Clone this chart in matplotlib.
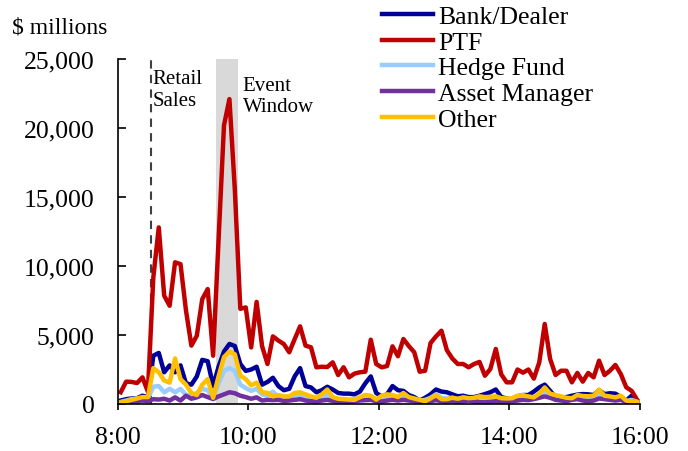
import matplotlib
matplotlib.use('Agg')
import matplotlib.pyplot as plt
import numpy as np

plt.rcParams['font.family'] = ['Liberation Serif', 'DejaVu Serif']
f_size = 18.5

# 5-minute bins from 8:00 to 16:00, values in $ millions
bin_minutes = 5
n_bins = 96

bank_dealer = [250, 350, 400, 420, 600, 500, 3500, 3700, 2300, 2800, 2300, 2800, 1500, 1400, 2000, 3200,
               3100, 1300, 2700, 3800, 4350, 4200, 2900, 2400, 2500, 2700, 1400, 1600, 1900, 1300, 1000, 1100,
               2000, 2600, 1300, 1200, 850, 1000, 1250, 1050, 800, 750, 750, 700, 900, 1500, 2000, 800,
               550, 700, 1300, 1000, 950, 650, 500, 250, 450, 700, 1050, 900, 850, 700, 560, 600,
               500, 500, 600, 720, 850, 1050, 500, 400, 350, 550, 650, 650, 900, 1200, 1400, 950,
               500, 480, 500, 600, 680, 720, 700, 650, 1000, 720, 780, 750, 500, 250, 600, 250]

ptf = [850, 1620, 1600, 1520, 1930, 890, 9180, 12800, 7850, 7120, 10270, 10140, 6800, 4230, 4950, 7600,
       8330, 3500, 11900, 20200, 22100, 15500, 6900, 7000, 4100, 7400, 4200, 2900, 4900, 4600, 4350, 3750,
       4700, 5630, 4230, 4110, 2660, 2700, 2680, 3020, 2100, 2660, 1930, 2200, 2300, 2340, 4660, 2900,
       2660, 2750, 4180, 3460, 4710, 4200, 3750, 2340, 2410, 4420, 4900, 5310, 3900, 3300, 2900, 2900,
       2660, 2900, 3050, 2050, 2540, 3990, 2150, 1570, 1570, 2500, 2270, 2500, 1840, 3020, 5800, 3260,
       2100, 2410, 2410, 1570, 2250, 1620, 2250, 1930, 3140, 2100, 2410, 2830, 2170, 1210, 950, 300]

hedge_fund = [150, 250, 350, 400, 450, 400, 1250, 1300, 850, 1100, 850, 1100, 650, 600, 800, 1100,
              1000, 450, 1500, 2400, 2600, 2400, 1400, 1150, 950, 1100, 700, 600, 900, 500, 450, 500,
              600, 650, 400, 450, 350, 500, 650, 450, 350, 350, 300, 350, 450, 650, 550, 350,
              350, 450, 550, 450, 550, 450, 350, 250, 300, 450, 700, 450, 400, 450, 350, 450,
              400, 400, 500, 450, 450, 500, 350, 350, 400, 550, 650, 500, 450, 600, 900, 650,
              450, 400, 350, 300, 500, 450, 450, 400, 650, 450, 400, 400, 350, 200, 300, 150]

asset_manager = [60, 80, 120, 180, 250, 200, 350, 320, 380, 250, 480, 250, 600, 380, 480, 650,
                 500, 360, 550, 700, 850, 780, 600, 500, 380, 480, 250, 300, 280, 300, 220, 250,
                 300, 350, 250, 200, 180, 250, 300, 220, 150, 180, 150, 200, 250, 280, 300, 200,
                 180, 250, 300, 250, 300, 250, 200, 120, 150, 200, 280, 200, 180, 220, 150, 200,
                 250, 180, 150, 120, 150, 200, 150, 180, 200, 250, 300, 280, 350, 450, 550, 450,
                 300, 250, 200, 300, 350, 250, 200, 250, 400, 350, 300, 250, 300, 150, 200, 100]

other = [100, 200, 300, 400, 500, 500, 2600, 2300, 1700, 1550, 3300, 1800, 1400, 800, 650, 1400,
         1800, 450, 2000, 3400, 3800, 3600, 2050, 1800, 1350, 1550, 850, 800, 550, 650, 550, 550,
         800, 850, 700, 550, 450, 700, 1050, 500, 380, 350, 320, 300, 490, 650, 600, 320,
         600, 700, 650, 500, 800, 500, 400, 300, 200, 400, 650, 350, 350, 450, 380, 480,
         420, 450, 560, 500, 520, 560, 420, 400, 420, 600, 600, 550, 480, 750, 1200, 750,
         650, 550, 450, 420, 650, 580, 560, 600, 1050, 600, 550, 480, 600, 250, 200, 150]

series = [('Bank/Dealer', bank_dealer, '#000099'),
          ('PTF', ptf, '#C00000'),
          ('Hedge Fund', hedge_fund, '#99CCFF'),
          ('Asset Manager', asset_manager, '#7030A0'),
          ('Other', other, '#FFC000')]

tick_hours = [8, 10, 12, 14, 16]
tick_labels = ['8:00', '10:00', '12:00', '14:00', '16:00']
y_ticks = [0, 5000, 10000, 15000, 20000, 25000]
y_labels = ['0', '5,000', '10,000', '15,000', '20,000', '25,000']

retail_sales = 8.5
event_window = (9.5, 9 + 50 / 60)

# plot each bin at its centre
t = 8 + (np.arange(n_bins) * bin_minutes + bin_minutes / 2) / 60

fig = plt.figure(figsize=(6.88, 4.52), dpi=100)
ax = fig.add_axes([0.1715, 0.104, 0.7585, 0.763])

ax.axvspan(event_window[0], event_window[1], color='#D9D9D9', lw=0, zorder=0)
ax.axvline(retail_sales, color='#404040', lw=1.5, ls=(0, (4, 3)), zorder=1)

for name, vals, col in series:
    ax.plot(t, vals, color=col, lw=3.2, label=name)

ax.set_xlim(8, 16)
ax.set_ylim(0, 25000)
ax.set_xticks(tick_hours)
ax.set_xticklabels(tick_labels, fontsize=f_size)
ax.set_yticks(y_ticks)
ax.set_yticklabels(y_labels, fontsize=f_size)
ax.tick_params(axis='x', direction='out', length=4, width=1.2, pad=12)
ax.tick_params(axis='y', direction='in', length=6, width=1.2, pad=17)

for s in ['top', 'right']:
    ax.spines[s].set_visible(False)
for s in ['left', 'bottom']:
    ax.spines[s].set_linewidth(1.2)

ax.text(8.53, 24300, 'Retail\nSales', fontsize=15, va='top', ha='left')
ax.text(9.91, 23800, 'Event\nWindow', fontsize=15, va='top', ha='left')

fig.text(0.017, 0.938, r'\$ millions', fontsize=17, ha='left', va='center')

fig.legend(loc='upper left', bbox_to_anchor=(0.540, 1.01), fontsize=f_size, frameon=False,
           handlelength=2.0, handletextpad=0.2, labelspacing=0.11, borderaxespad=0)

fig.savefig('out.png', dpi=100)
